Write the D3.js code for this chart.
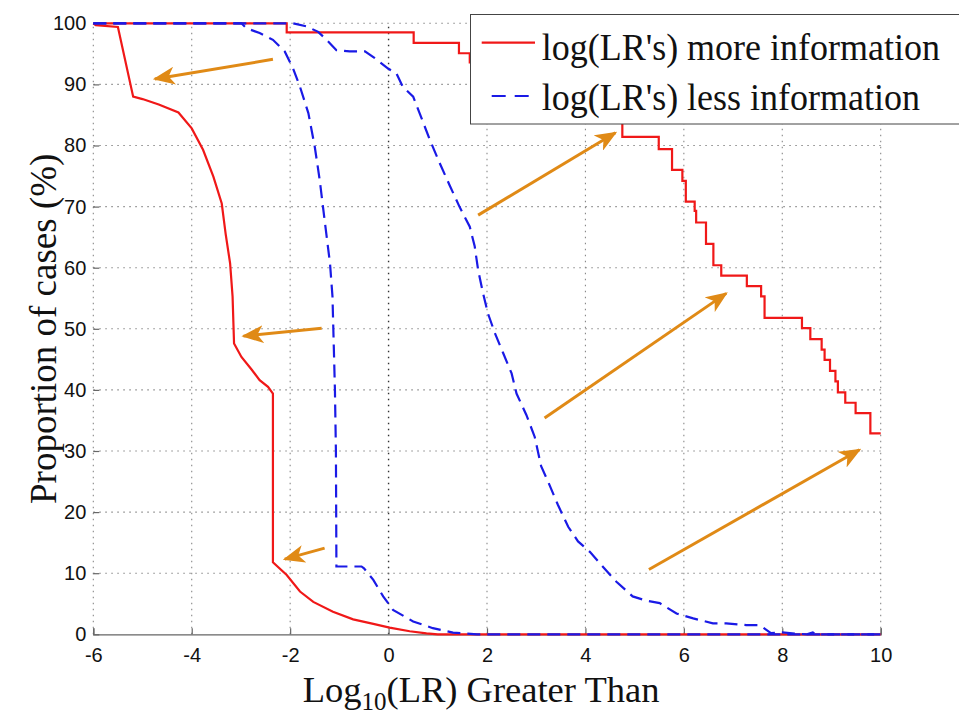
<!DOCTYPE html>
<html><head><meta charset="utf-8">
<script src="https://cdn.jsdelivr.net/npm/d3@7"></script>
<style>body{margin:0;background:#fff}svg{display:block}</style>
</head><body>
<svg id="chart" width="959" height="717"></svg>
<script>
// ---------- data ----------
const xTicks = [-6,-4,-2,0,2,4,6,8,10];
const yTicks = [0,10,20,30,40,50,60,70,80,90,100];

// red solid, "more information" – left curve
const moreInfoLeft = [[-6,100],[-5.95,99.7],[-5.5,99.4],[-5.19,88],[-5.0,87.6],[-4.67,86.7],[-4.27,85.4],[-4.0,82.8],[-3.77,79.3],[-3.56,74.9],[-3.39,70.5],[-3.31,65.5],[-3.22,60.7],[-3.17,55.3],[-3.14,47.6],[-2.99,45.4],[-2.78,43.3],[-2.62,41.6],[-2.45,40.5],[-2.35,39.4],[-2.35,11.8],[-2.07,9.7],[-1.80,7.0],[-1.53,5.3],[-1.13,3.7],[-0.72,2.45],[-0.31,1.7],[0.02,1.1],[0.43,0.5],[0.77,0.15],[1.0,0],[10,0]];

// red solid, "more information" – right curve (step values: x where step starts, value)
const moreInfoRight = [[-6,100],[-2.07,98.5],[0.51,96.8],[1.43,95.1],[1.65,93.6],[2.4,92.0],[3.1,90.3],[3.6,88.5],[4.1,86.8],[4.4,84.8],[4.75,81.4],[5.49,79.4],[5.76,76.0],[5.97,74.2],[6.04,70.8],[6.22,69.3],[6.25,67.4],[6.45,63.9],[6.6,60.4],[6.76,58.7],[7.28,57.0],[7.57,55.3],[7.64,51.8],[8.40,50.1],[8.57,48.3],[8.80,46.6],[8.86,44.9],[8.97,43.1],[9.08,41.4],[9.13,39.6],[9.28,37.9],[9.49,36.2],[9.79,32.9],[10,32.9]];

// blue dashed, "less information" – left curve
const lessInfoLeft = [[-6,100],[-2.99,100],[-2.89,99.2],[-2.62,98.4],[-2.35,97.3],[-2.11,95.4],[-1.94,92.6],[-1.80,89.6],[-1.63,85.3],[-1.50,79.8],[-1.40,74.4],[-1.30,67.8],[-1.19,60.7],[-1.14,55.3],[-1.09,40],[-1.07,30],[-1.06,11.1],[-0.55,11.1],[-0.5,10.8],[-0.31,8.9],[-0.11,6.2],[0.09,4.0],[0.5,2.1],[0.9,1.0],[1.31,0.27],[1.6,0.1],[1.8,0],[10,0]];

// blue dashed, "less information" – right curve
const lessInfoRight = [[-6,100],[-1.94,100],[-1.67,99.5],[-1.43,98.6],[-1.26,97.3],[-1.06,95.6],[-0.79,95.4],[-0.48,95.4],[-0.28,94.3],[-0.01,92.6],[0.16,91.8],[0.29,89.6],[0.5,88.0],[0.63,85.3],[0.84,80.9],[1.04,77.1],[1.24,73.5],[1.44,70.0],[1.65,66.7],[1.75,63.5],[1.82,59.6],[1.92,55.8],[2.02,52.5],[2.16,49.3],[2.33,46.0],[2.5,42.7],[2.6,39.4],[2.80,35.9],[2.97,32.3],[3.1,27.5],[3.24,25.0],[3.44,21.2],[3.65,17.6],[3.85,15.2],[4.09,13.5],[4.35,11.1],[4.63,8.6],[4.96,6.2],[5.24,5.5],[5.51,5.1],[5.85,3.4],[6.19,2.6],[6.59,1.8],[6.86,1.8],[7.27,1.5],[7.54,1.5],[7.77,0.2],[8.0,0.3],[8.3,0.1],[8.5,0],[8.62,0.3],[8.7,0],[10,0]];

// annotation arrows: [tailX, tailY, tipX, tipY] in data units
const arrows = [[-2.35,94.1,-4.75,90.9],[-1.36,50.1,-2.95,48.8],[-1.30,14.1,-2.11,12.3],[1.82,68.6,4.61,82.1],[3.17,35.4,6.86,55.8],[5.29,10.6,9.57,30.2]];

const legendLabels = ["log(LR's) more information","log(LR's) less information"];

// ---------- chart ----------
const svg = d3.select('#chart');
const L = 93.3, R = 880.7, T = 23.3, B = 634.3;
const x = d3.scaleLinear().domain([-6,10]).range([L,R]);
const y = d3.scaleLinear().domain([0,100]).range([B,T]);

const RED = '#f01818', BLUE = '#1a1ae6', ORANGE = '#e08a16';

// grid
const grid = svg.append('g');
grid.selectAll('line.v').data(xTicks).join('line')
  .attr('x1', d=>x(d)).attr('x2', d=>x(d)).attr('y1', y(0)).attr('y2', y(100))
  .attr('stroke', d=> d===0 ? '#333' : '#888').attr('stroke-width', d=> d===0 ? 1.4 : 1.1)
  .attr('stroke-dasharray', '1.5,4.5');
grid.selectAll('line.h').data(yTicks.filter(d=>d>0)).join('line')
  .attr('x1', x(-6)).attr('x2', x(10)).attr('y1', d=>y(d)).attr('y2', d=>y(d))
  .attr('stroke', '#888').attr('stroke-width', 1.1).attr('stroke-dasharray', '1.5,4.5');

// axes
const xAxis = d3.axisBottom(x).tickValues(xTicks).tickSize(-6).tickPadding(14).tickFormat(d => String(d));
const gx = svg.append('g').attr('transform', `translate(0,${B})`).call(xAxis);
gx.select('.domain').attr('stroke', '#666').attr('stroke-width', 1.3);
gx.selectAll('.tick line').attr('stroke', '#666').attr('stroke-width', 1.2);
gx.selectAll('.tick text').attr('font-family', 'Liberation Sans, Arial, sans-serif').attr('font-size', 20).attr('fill', '#111');

const yAxis = d3.axisLeft(y).tickValues(yTicks).tickSize(-6).tickPadding(7).tickFormat(d => String(d));
const gy = svg.append('g').attr('transform', `translate(${L},0)`).call(yAxis);
gy.select('.domain').remove();
gy.selectAll('.tick line').attr('stroke', '#666').attr('stroke-width', 1.2);
gy.selectAll('.tick text').attr('font-family', 'Liberation Sans, Arial, sans-serif').attr('font-size', 20).attr('fill', '#111');

// lines
const lin = d3.line().x(d=>x(d[0])).y(d=>y(d[1]));
const stp = d3.line().x(d=>x(d[0])).y(d=>y(d[1])).curve(d3.curveStepAfter);

svg.append('path').datum(moreInfoRight).attr('d', stp).attr('fill','none').attr('stroke',RED).attr('stroke-width',2.2);
svg.append('path').datum(moreInfoLeft).attr('d', lin).attr('fill','none').attr('stroke',RED).attr('stroke-width',2.2);
svg.append('path').datum(lessInfoLeft).attr('d', lin).attr('fill','none').attr('stroke',BLUE).attr('stroke-width',2.2).attr('stroke-dasharray','13,7');
svg.append('path').datum(lessInfoRight).attr('d', lin).attr('fill','none').attr('stroke',BLUE).attr('stroke-width',2.2).attr('stroke-dasharray','13,7');

// arrows
svg.append('defs').append('marker').attr('id','ah')
  .attr('viewBox','0 0 22 18').attr('refX',20).attr('refY',9)
  .attr('markerWidth',22).attr('markerHeight',18).attr('markerUnits','userSpaceOnUse')
  .attr('orient','auto')
  .append('path').attr('d','M0,0 L22,9 L0,18 L6,9 Z').attr('fill',ORANGE);
svg.selectAll('line.arrow').data(arrows).join('line')
  .attr('x1', d=>x(d[0])).attr('y1', d=>y(d[1])).attr('x2', d=>x(d[2])).attr('y2', d=>y(d[3]))
  .attr('stroke', ORANGE).attr('stroke-width', 3).attr('marker-end','url(#ah)');

// legend
const lg = svg.append('g');
lg.append('rect').attr('x',470.5).attr('y',14.5).attr('width',520).attr('height',109.5)
  .attr('fill','#fff').attr('stroke','#444').attr('stroke-width',1);
lg.append('line').attr('x1',481.7).attr('x2',535).attr('y1',42.7).attr('y2',42.7).attr('stroke',RED).attr('stroke-width',2.2);
lg.append('line').attr('x1',491.7).attr('x2',535).attr('y1',96).attr('y2',96).attr('stroke',BLUE).attr('stroke-width',2.2).attr('stroke-dasharray','14,9');
lg.selectAll('text').data(legendLabels).join('text')
  .attr('transform',(d,i)=>`translate(541.7,${i===0 ? 60 : 110}) scale(1,1.08)`)
  .attr('font-family','Liberation Serif, Times New Roman, serif').attr('font-size',36).attr('fill','#111')
  .text(d=>d);

// axis labels
const xl = svg.append('text').attr('x',302.7).attr('y',701.7)
  .attr('font-family','Liberation Serif, Times New Roman, serif').attr('font-size',36.5).attr('fill','#111');
xl.append('tspan').text('Log');
xl.append('tspan').attr('font-size',25).attr('dy',8).text('10');
xl.append('tspan').attr('dy',-8).text('(LR) Greater Than');

svg.append('text').attr('transform',`translate(56,${(T+B)/2}) rotate(-90)`)
  .attr('text-anchor','middle')
  .attr('font-family','Liberation Serif, Times New Roman, serif').attr('font-size',37).attr('fill','#111')
  .text('Proportion of cases (%)');
</script>
</body></html>
